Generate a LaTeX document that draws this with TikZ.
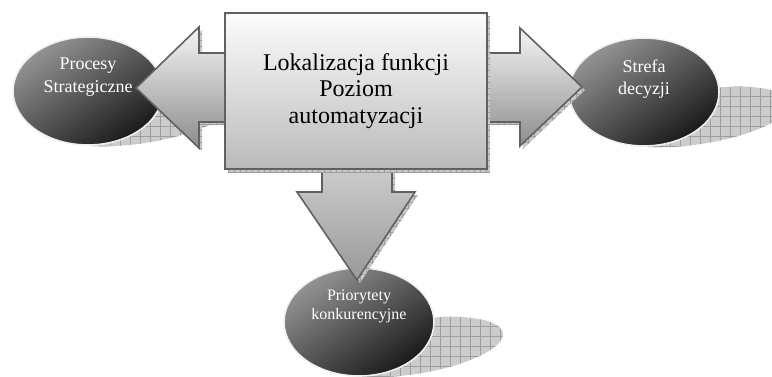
\documentclass[tikz,border=0pt]{standalone}
\usepackage{fontspec}
\setmainfont{Liberation Serif}
\usetikzlibrary{shapes.geometric,patterns.meta}

\tikzset{
  groundshadow/.style={fill=black!20,
    postaction={pattern={Hatch[angle=0,distance=10pt,line width=0.5pt]}, pattern color=black!38}},
  dropshadow/.style={fill=black!22,
    postaction={pattern={Hatch[angle=0,distance=6pt,line width=0.4pt]}, pattern color=black!38}},
  bubble/.style={ellipse, minimum width=150pt, minimum height=108pt, inner sep=0pt,
    draw=black!6, line width=1.6pt, top color=black!42, bottom color=black!90, shading angle=35},
  bubbletext/.style={text=white, align=center, inner sep=0pt},
  blockarrow/.style={draw=black!62, line width=1.6pt, line join=miter},
  centerbox/.style={rectangle, draw=black!62, line width=1.6pt, minimum width=262pt, minimum height=156pt,
    top color=black!1, bottom color=black!27, align=center, inner sep=0pt,
    font=\fontsize{24}{26.5}\selectfont}
}

\begin{document}
\begin{tikzpicture}[x=1pt,y=1pt]
\useasboundingbox (0,0) rectangle (772,376);
\clip (0,0) rectangle (772,376);

% flattened ground shadows behind the ellipses
\path[groundshadow, rotate around={9:(143,260)}] (143,260) ellipse [x radius=92, y radius=27];
\path[groundshadow, rotate around={9:(699,259)}] (699,259) ellipse [x radius=92, y radius=27];
\path[groundshadow, rotate around={9:(414,29)}]  (414,29)  ellipse [x radius=90, y radius=27];

% ellipses
\node[bubble] (proc) at (88,285)  {};
\node[bubble] (dec)  at (644,284) {};
\node[bubble] (prio) at (359,54)  {};

% drop shadows of the block arrows
\path[dropshadow, shift={(3,-3)}] (240,323) -- (199,323) -- (199,349) -- (136,288) -- (199,228) -- (199,254) -- (240,254) -- cycle;
\path[dropshadow, shift={(3,-3)}] (470,323) -- (520,323) -- (520,348) -- (582,289) -- (520,230) -- (520,254) -- (470,254) -- cycle;
\path[dropshadow, shift={(3,-3)}] (322,220) -- (322,184) -- (297,184) -- (357,96) -- (415,184) -- (392,184) -- (392,220) -- cycle;

% block arrows
\draw[blockarrow, top color=black!4, bottom color=black!45]
  (240,323) -- (199,323) -- (199,349) -- (136,288) -- (199,228) -- (199,254) -- (240,254) -- cycle;
\draw[blockarrow, top color=black!4, bottom color=black!45]
  (470,323) -- (520,323) -- (520,348) -- (582,289) -- (520,230) -- (520,254) -- (470,254) -- cycle;
\draw[blockarrow, top color=black!18, bottom color=black!40]
  (322,220) -- (322,184) -- (297,184) -- (357,96) -- (415,184) -- (392,184) -- (392,220) -- cycle;

% central box with its shadow
\path[dropshadow] (228,204) rectangle (490,360);
\node[centerbox] (box) at (356,285) {Lokalizacja funkcji\\Poziom\\automatyzacji};

% ellipse labels
\node[bubbletext, font=\fontsize{18}{22.5}\selectfont] (procText) at ([yshift=14pt]proc.center) {Procesy\\Strategiczne};
\node[bubbletext, font=\fontsize{18}{22.5}\selectfont] (decText)  at ([yshift=13pt]dec.center)  {Strefa\\decyzji};
\node[bubbletext, font=\fontsize{16}{19}\selectfont]   (prioText) at ([yshift=16pt]prio.center) {Priorytety\\konkurencyjne};
\end{tikzpicture}
\end{document}
